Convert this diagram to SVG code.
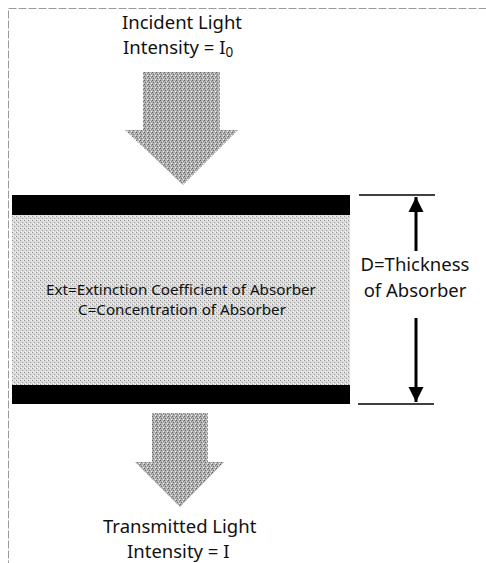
<svg xmlns="http://www.w3.org/2000/svg" width="486" height="563" viewBox="0 0 486 563">
<style>
  .lbl { font-family: "Noto Sans", "Open Sans", "DejaVu Sans", sans-serif; fill: #111; }
  .big { font-size: 18.5px; }
  .mid { font-size: 15.2px; }
  .dim { stroke: #000; stroke-width: 3; fill: none; }
  .tick { stroke: #000; stroke-width: 1.5; }
</style>
<defs>
  <pattern id="darkDots" width="4" height="4" patternUnits="userSpaceOnUse">
    <rect width="4" height="4" fill="#b0b0b0"/>
    <rect x="0" y="0" width="1" height="1" fill="#666"/>
    <rect x="2" y="1" width="1" height="1" fill="#e4e4e4"/>
    <rect x="1" y="2" width="1" height="1" fill="#727272"/>
    <rect x="3" y="3" width="1" height="1" fill="#ececec"/>
    <rect x="3" y="1" width="1" height="1" fill="#848484"/>
  </pattern>
  <pattern id="lightDots" width="4" height="4" patternUnits="userSpaceOnUse">
    <rect width="4" height="4" fill="#dadada"/>
    <rect x="0" y="0" width="1" height="1" fill="#959595"/>
    <rect x="2" y="2" width="1" height="1" fill="#a4a4a4"/>
    <rect x="3" y="0" width="1" height="1" fill="#f6f6f6"/>
    <rect x="1" y="3" width="1" height="1" fill="#f2f2f2"/>
  </pattern>
  <marker id="ah" viewBox="0 0 10 10" refX="10" refY="5" markerWidth="5" markerHeight="5.5" orient="auto" markerUnits="strokeWidth">
    <path d="M0,0 L10,5 L0,10 z" fill="#000"/>
  </marker>
</defs>

<rect x="8.5" y="8.5" width="480" height="560" fill="none" stroke="#9a9a9a" stroke-width="1" stroke-dasharray="8 2"/>

<g id="incident">
  <text class="lbl big" x="122" y="29">Incident Light</text>
  <text class="lbl big" x="123" y="54">Intensity = I<tspan font-size="13.5" dy="3">0</tspan></text>
</g>

<g id="incident-arrow">
  <polygon points="143,72 220,72 220,130 238,130 183,185 125,130 143,130" fill="url(#darkDots)"/>
</g>

<g id="absorber">
  <rect x="12" y="215" width="338" height="170" fill="url(#lightDots)"/>
  <rect x="12" y="195" width="338" height="20" fill="#000"/>
  <rect x="12" y="385" width="338" height="19" fill="#000"/>
  <text class="lbl mid" x="181" y="295" text-anchor="middle">Ext=Extinction Coefficient of Absorber</text>
  <text class="lbl mid" x="182" y="315" text-anchor="middle">C=Concentration of Absorber</text>
</g>

<g id="transmitted-arrow">
  <polygon points="152,413 208,413 208,462 224,462 180,507 135,462 152,462" fill="url(#darkDots)"/>
</g>

<g id="transmitted">
  <text class="lbl big" x="103" y="533">Transmitted Light</text>
  <text class="lbl big" x="127" y="558">Intensity = I</text>
</g>

<g id="thickness">
  <text class="lbl big" x="415" y="271" text-anchor="middle">D=Thickness</text>
  <text class="lbl big" x="415" y="297" text-anchor="middle">of Absorber</text>
</g>

<g id="connectors">
  <line class="tick" x1="359" y1="195" x2="435" y2="195"/>
  <line class="tick" x1="358" y1="404" x2="434" y2="404"/>
  <line class="dim" x1="416" y1="251" x2="416" y2="197" marker-end="url(#ah)"/>
  <line class="dim" x1="416" y1="318" x2="416" y2="402" marker-end="url(#ah)"/>
</g>
</svg>
